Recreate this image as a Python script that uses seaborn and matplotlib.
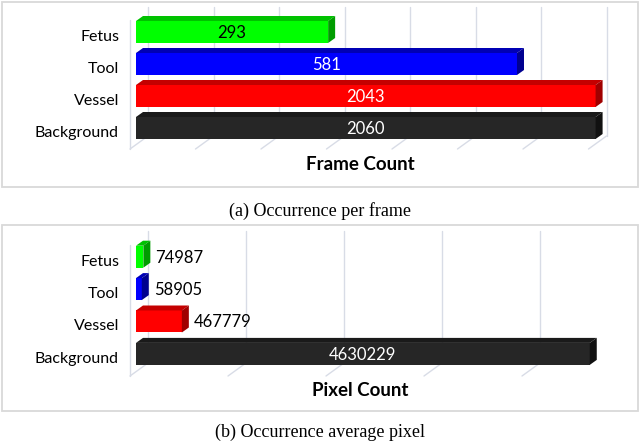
import matplotlib
matplotlib.use("Agg")
import matplotlib.pyplot as plt
import seaborn as sns
import pandas as pd
from matplotlib.patches import Polygon, Rectangle

# ---------------- data ----------------
categories = ["Fetus", "Tool", "Vessel", "Background"]
bar_colors = ["#00ff00", "#0000ff", "#ff0000", "#262626"]
top_colors = ["#00c200", "#0000b4", "#c40000", "#1a1a1a"]
side_colors = ["#009c00", "#000090", "#a00000", "#111111"]
label_colors = ["black", "white", "white", "white"]

# (a) bar lengths as drawn in the picture, and the printed labels
frame_bar_length = [880, 1745, 2105, 2105]
frame_labels = ["293", "581", "2043", "2060"]
frame_ticks = [0, 300, 600, 900, 1200, 1500, 1800, 2100]

# (b) pixel counts
pixel_count = [74987, 58905, 467779, 4630229]
pixel_labels = ["74987", "58905", "467779", "4630229"]
pixel_ticks = [0, 1000000, 2000000, 3000000, 4000000]

W, H = 640, 444
sns.set_theme(style="white")
plt.rcParams["font.family"] = ["Lato", "DejaVu Sans"]

fig = plt.figure(figsize=(W / 100, H / 100), dpi=100)
fig.patch.set_facecolor("white")

GRID = "#d8dce6"
X0 = 136  # pixel of value 0 on the bar front faces
DX, DY = 7, 5  # 3D depth of bars in px
WALL = 12  # back wall offset in px
step_px = {"Frame Count": 65.5, "Pixel Count": 98.0}


def box(top, bottom):
    fig.add_artist(Rectangle((2 / W, 1 - bottom / H), 636 / W, (bottom - top) / H,
                             transform=fig.transFigure, fill=False,
                             edgecolor="#d9d9d9", lw=1.3))


def panel(values, labels, xmax, ticks, top_px, bottom_px, c0, pitch, barh,
          wall_top, wall_bot, floor_y, left_top, inside_all,
          title, title_y, caption, caption_y):
    ppu = step_px[title] / (ticks[1] - ticks[0])
    right_px = X0 + xmax * ppu
    ax = fig.add_axes([X0 / W, 1 - bottom_px / H, (right_px - X0) / W, (bottom_px - top_px) / H])
    df = pd.DataFrame({"cat": categories, "val": values})
    sns.barplot(data=df, x="val", y="cat", hue="cat", palette=bar_colors, order=categories,
                hue_order=categories, orient="h", width=barh / pitch, saturation=1,
                linewidth=0, legend=False, ax=ax, zorder=3)
    toplim = -(c0 - top_px) / pitch
    botlim = 3 + (bottom_px - (c0 + 3 * pitch)) / pitch
    ax.set_xlim(0, xmax)
    ax.set_ylim(botlim, toplim)
    ax.axis("off")

    def X(px):
        return (px - X0) / ppu

    def Y(py):
        return toplim + (py - top_px) / pitch

    # walls / grid
    kw = dict(color=GRID, lw=1.0, clip_on=False, zorder=0.5)
    for t in ticks:
        xf = t * ppu + X0 - 6
        xb = t * ppu + X0 + WALL
        ax.plot([X(xb), X(xb)], [Y(wall_top), Y(wall_bot)], **kw)
        ax.plot([X(xf), X(xb)], [Y(floor_y), Y(wall_bot)], **kw)
    ax.plot([X(X0 - 6), X(X0 - 6)], [Y(left_top), Y(floor_y)], **kw)

    # 3D faces from the seaborn bars
    dxd = DX / ppu
    dyd = DY / pitch
    bars = [p for c in ax.containers for p in c]
    for p in bars:
        yc = p.get_y() + p.get_height() / 2
        i = int(round(yc))
        w = p.get_width()
        yt = p.get_y()
        yb = p.get_y() + p.get_height()
        ax.add_patch(Polygon([(0, yt), (w, yt), (w + dxd, yt - dyd), (dxd, yt - dyd)],
                             closed=True, facecolor=top_colors[i], edgecolor="none",
                             clip_on=False, zorder=3))
        ax.add_patch(Polygon([(w, yt), (w + dxd, yt - dyd), (w + dxd, yb - dyd), (w, yb)],
                             closed=True, facecolor=side_colors[i], edgecolor="none",
                             clip_on=False, zorder=3))
        p.set_clip_on(False)
        if inside_all or i == 3:
            ax.text(w / 2, yc + 0.03, labels[i], ha="center", va="center", fontsize=12,
                    color=label_colors[i], zorder=5, clip_on=False)
        else:
            ax.text(w + dxd + X(X0 + 5), yc + 0.03, labels[i], ha="left", va="center",
                    fontsize=12, color="black", zorder=5, clip_on=False)
        ax.text(X(119), yc + 5 / pitch, categories[i], ha="right", va="center",
                fontsize=11.5, color="black", clip_on=False)

    fig.text(360 / W, 1 - title_y / H, title, ha="center", va="center",
             fontsize=13.5, fontweight="bold", color="black")
    fig.text(320 / W, 1 - caption_y / H, caption, ha="center", va="center",
             fontsize=13, family=["Liberation Serif", "DejaVu Serif"], color="black")
    return ax


box(2, 187)
box(225, 411)

panel(frame_bar_length, frame_labels, 2100, frame_ticks, 5, 152, 32, 32, 22,
      7, 136, 149, 20, True,
      "Frame Count", 164, "(a) Occurrence per frame", 211)

panel(pixel_count, pixel_labels, 4.7e6, pixel_ticks, 228, 378, 256.7, 32.4, 22,
      231, 363, 376, 245, False,
      "Pixel Count", 390, "(b) Occurrence average pixel", 432)

fig.savefig("out.png", dpi=100, facecolor="white")
